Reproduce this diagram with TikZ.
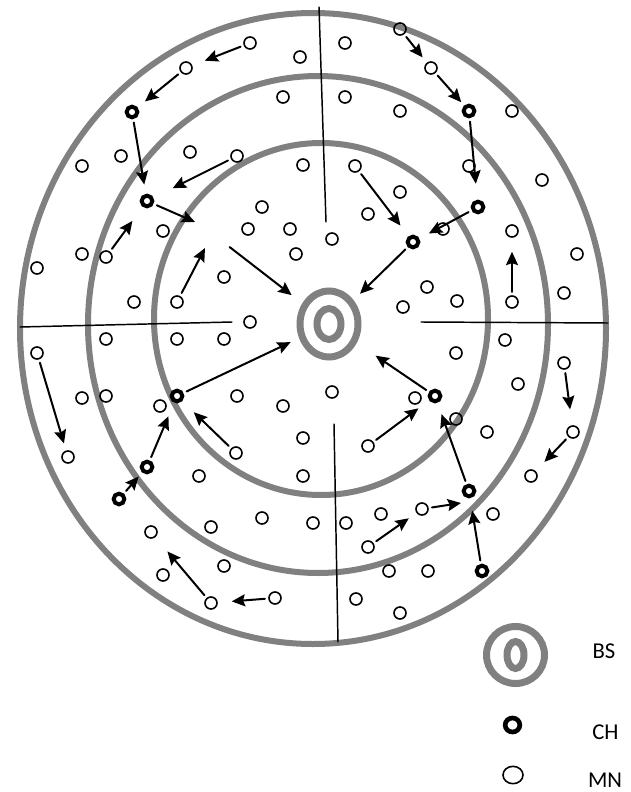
\documentclass[tikz,border=0pt]{standalone}
\usepackage{fontspec}
\setmainfont{Carlito}
\usetikzlibrary{arrows.meta,shapes.geometric}

\tikzset{
  ring/.style={draw=gray,line width=4.5pt},
  bsring/.style={ellipse,draw=gray,line width=5.25pt,inner sep=0pt},
  mn/.style={circle,draw,line width=1.2pt,minimum size=9pt,inner sep=0pt},
  ch/.style={circle,draw,line width=3pt,minimum size=8pt,inner sep=0pt},
  arr/.style={->,line width=1.5pt,shorten <=2.5pt},
  divider/.style={line width=1.1pt},
  legtext/.style={inner sep=0pt,font=\fontsize{17}{19}\selectfont}
}

\begin{document}
\begin{tikzpicture}[x=0.75pt,y=-0.75pt,>={Stealth[length=10pt,width=9pt,inset=1.5pt]},line cap=round]
\useasboundingbox (0,0) rectangle (631,792);
% tiers round the base station
\draw[ring] (313,328.5) ellipse [x radius=293,y radius=315.5];
\draw[ring] (318,324.5) ellipse [x radius=230,y radius=248.5];
\draw[ring] (321,319) ellipse [x radius=167,y radius=176];
\draw[divider] (319,7) -- (326,222);
\draw[divider] (20,327) -- (232,322);
\draw[divider] (421,322) -- (608,323);
\draw[divider] (334,424) -- (338,642);
% base station
\node[bsring,minimum width=43.5pt,minimum height=49.5pt] (bs) at (329,324) {};
\node[bsring,minimum width=18pt,minimum height=23.25pt] (bsin) at (bs) {};
% cluster heads
\node[ch] (ch1) at (132,112) {};
\node[ch] (ch2) at (147,201) {};
\node[ch] (ch3) at (469,111) {};
\node[ch] (ch4) at (478,207) {};
\node[ch] (ch5) at (413,242) {};
\node[ch] (ch6) at (177,396) {};
\node[ch] (ch7) at (147,467) {};
\node[ch] (ch8) at (119,499) {};
\node[ch] (ch9) at (435,396) {};
\node[ch] (ch10) at (469,491) {};
\node[ch] (ch11) at (482,571) {};
% member nodes, upper left
\node[mn] (m1) at (250,43) {};
\node[mn] (m2) at (300,57) {};
\node[mn] (m3) at (186,68) {};
\node[mn] (m4) at (283,97) {};
\node[mn] (m5) at (82,166) {};
\node[mn] (m6) at (121,156) {};
\node[mn] (m7) at (190,152) {};
\node[mn] (m8) at (237,156) {};
\node[mn] (m9) at (303,165) {};
\node[mn] (m10) at (262,207) {};
\node[mn] (m11) at (248,229) {};
\node[mn] (m12) at (290,229) {};
\node[mn] (m13) at (296,254) {};
\node[mn] (m14) at (163,231) {};
\node[mn] (m15) at (82,254) {};
\node[mn] (m16) at (106,257) {};
\node[mn] (m17) at (37,268) {};
\node[mn] (m18) at (224,277) {};
\node[mn] (m19) at (134,302) {};
\node[mn] (m20) at (177,302) {};
\node[mn] (m21) at (250,322) {};
% upper right
\node[mn] (m22) at (400,29) {};
\node[mn] (m23) at (345,43) {};
\node[mn] (m24) at (431,68) {};
\node[mn] (m25) at (345,97) {};
\node[mn] (m26) at (400,111) {};
\node[mn] (m27) at (512,111) {};
\node[mn] (m28) at (469,166) {};
\node[mn] (m29) at (355,166) {};
\node[mn] (m30) at (542,180) {};
\node[mn] (m31) at (400,192) {};
\node[mn] (m32) at (368,214) {};
\node[mn] (m33) at (332,239) {};
\node[mn] (m34) at (443,229) {};
\node[mn] (m35) at (512,231) {};
\node[mn] (m36) at (577,254) {};
\node[mn] (m37) at (564,293) {};
\node[mn] (m38) at (427,287) {};
\node[mn] (m39) at (457,301) {};
\node[mn] (m40) at (403,307) {};
\node[mn] (m41) at (512,302) {};
% lower left
\node[mn] (m42) at (106,339) {};
\node[mn] (m43) at (177,339) {};
\node[mn] (m44) at (224,339) {};
\node[mn] (m45) at (37,353) {};
\node[mn] (m46) at (68,457) {};
\node[mn] (m47) at (82,398) {};
\node[mn] (m48) at (106,396) {};
\node[mn] (m49) at (160,406) {};
\node[mn] (m50) at (237,396) {};
\node[mn] (m51) at (283,406) {};
\node[mn] (m52) at (303,438) {};
\node[mn] (m53) at (303,476) {};
\node[mn] (m54) at (236,453) {};
\node[mn] (m55) at (199,476) {};
\node[mn] (m56) at (151,532) {};
\node[mn] (m57) at (211,527) {};
\node[mn] (m58) at (262,518) {};
\node[mn] (m59) at (313,523) {};
\node[mn] (m60) at (224,566) {};
\node[mn] (m61) at (163,575) {};
\node[mn] (m62) at (211,603) {};
\node[mn] (m63) at (275,598) {};
% lower right
\node[mn] (m64) at (505,340) {};
\node[mn] (m65) at (456,353) {};
\node[mn] (m66) at (564,363) {};
\node[mn] (m67) at (518,384) {};
\node[mn] (m68) at (332,392) {};
\node[mn] (m69) at (415,398) {};
\node[mn] (m70) at (368,446) {};
\node[mn] (m71) at (456,419) {};
\node[mn] (m72) at (487,432) {};
\node[mn] (m73) at (573,432) {};
\node[mn] (m74) at (531,476) {};
\node[mn] (m75) at (493,514) {};
\node[mn] (m76) at (346,523) {};
\node[mn] (m77) at (381,514) {};
\node[mn] (m78) at (422,509) {};
\node[mn] (m79) at (368,547) {};
\node[mn] (m80) at (389,571) {};
\node[mn] (m81) at (428,571) {};
\node[mn] (m82) at (356,599) {};
\node[mn] (m83) at (400,613) {};
% loose arrow ends
\coordinate (t5) at (195,222);
\coordinate (s6) at (227,245);
\coordinate (t8) at (205,248);
\coordinate (t28) at (461,503);
% data flow
\draw[arr,shorten >=10pt] (m1) -- (m3);
\draw[arr,shorten >=7pt] (m3) -- (ch1);
\draw[arr,shorten >=7pt] (ch1) -- (ch2);
\draw[arr,shorten >=16pt] (m8) -- (ch2);
\draw[arr] (ch2) -- (t5);
\draw[arr,shorten >=10pt] (s6) -- (bs);
\draw[arr,shorten >=13pt] (m16) -- (ch2);
\draw[arr] (m20) -- (t8);
\draw[arr,shorten >=5pt] (m22) -- (m24);
\draw[arr,shorten >=3.3pt] (m24) -- (ch3);
\draw[arr,shorten >=12pt] (ch3) -- (ch4);
\draw[arr,shorten >=10pt] (m29) -- (ch5);
\draw[arr,shorten >=8pt] (ch4) -- (ch5);
\draw[arr,shorten >=6.75pt] (ch5) -- (bs);
\draw[arr,shorten >=10.5pt] (m41) -- (m35);
\draw[arr,shorten >=5.5pt] (m45) -- (m46);
\draw[arr,shorten >=7pt] (ch6) -- (bs);
\draw[arr,shorten >=12pt] (m54) -- (ch6);
\draw[arr,shorten >=11pt] (ch7) -- (ch6);
\draw[arr,shorten >=4pt] (ch8) -- (ch7);
\draw[arr,shorten >=14pt] (m62) -- (m56);
\draw[arr,shorten >=10.5pt] (m63) -- (m62);
\draw[arr,shorten >=17pt] (ch9) -- (bs);
\draw[arr,shorten >=10pt] (m70) -- (ch9);
\draw[arr,shorten >=12pt] (m66) -- (m73);
\draw[arr,shorten >=9.5pt] (m73) -- (m74);
\draw[arr,shorten >=9pt] (ch10) -- (ch9);
\draw[arr] (m78) -- (t28);
\draw[arr,shorten >=7pt] (m79) -- (m78);
\draw[arr,shorten >=9.5pt] (ch11) -- (ch10);
% legend
\node[bsring,minimum width=43.5pt,minimum height=42.75pt] (lbs) at (515.5,655) {};
\node[bsring,minimum width=12.75pt,minimum height=20.25pt] (lbsin) at (lbs) {};
\node[ellipse,draw,line width=3.5pt,minimum width=11pt,minimum height=10.5pt,inner sep=0pt] (lch) at (512.5,725) {};
\node[ellipse,draw,line width=1.2pt,minimum width=15pt,minimum height=13pt,inner sep=0pt] (lmn) at (513,775) {};
\node[legtext] (tbs) at (604,651) {BS};
\node[legtext] (tch) at (605.5,732) {CH};
\node[legtext] (tmn) at (605,780) {MN};
\end{tikzpicture}
\end{document}
